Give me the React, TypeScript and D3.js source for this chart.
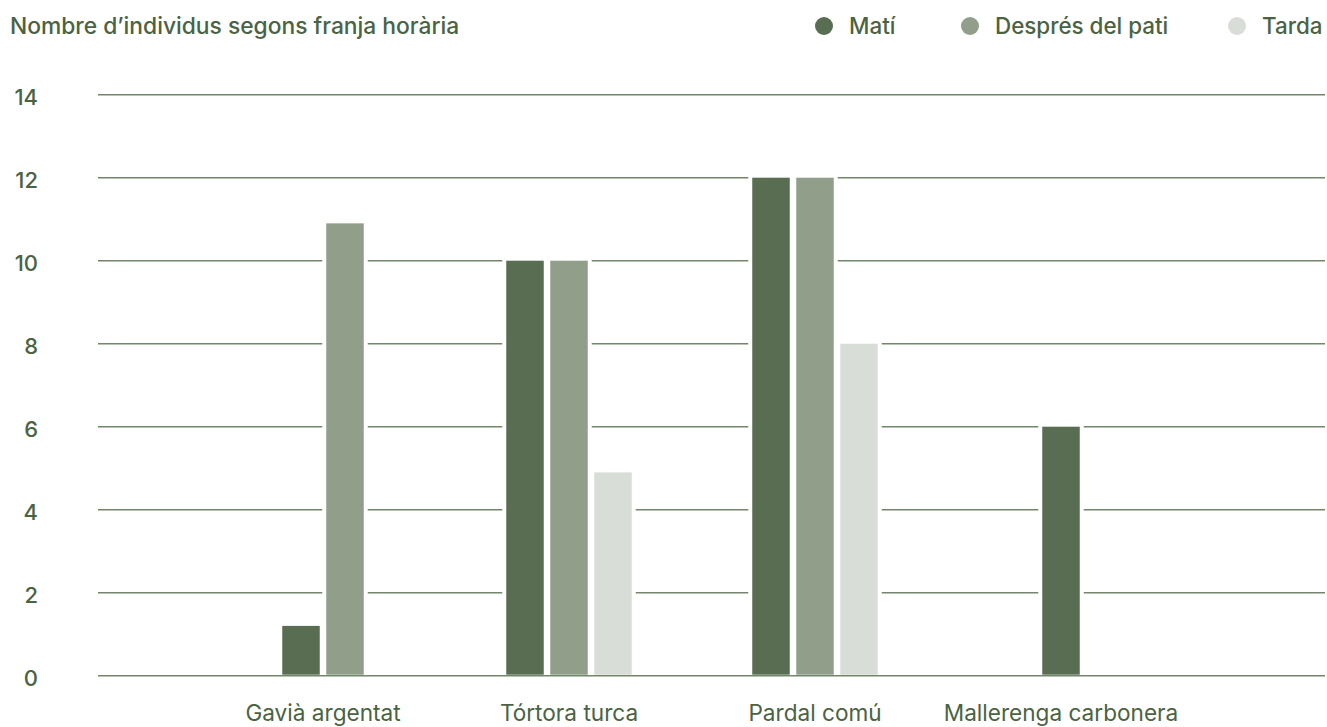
import React from 'react'
import * as d3 from 'd3'

const categories = ['Gavià argentat', 'Tórtora turca', 'Pardal comú', 'Mallerenga carbonera']
const seriesNames = ['Matí', 'Després del pati', 'Tarda']
const mati = [1.2, 10, 12, 6]
const despres = [10.9, 10, 12, 0]
const tarda = [0, 4.9, 8, 0]
const yTicks = [0, 2, 4, 6, 8, 10, 12, 14]
const colors = ['#586d51', '#909e8a', '#d9ddd7']

const W = 1327, H = 727
const textColor = '#4a6342'
const gridColor = '#73866b'
const font = 'Inter, "Noto Sans", sans-serif'

export default function App() {
  const series = [mati, despres, tarda]
  const x = d3.scaleBand().domain(categories).range([200, 1184]).padding(0)
  const y = d3.scaleLinear().domain([0, 14]).range([675.7, 94.7])
  const barW = 37.5, step = 44, halo = 4

  // bars: zero values dropped, remaining ones centred in the category
  const bars: { x: number; y: number; w: number; h: number; c: string }[] = []
  categories.forEach((cat, i) => {
    const present = series.map((s, j) => ({ v: s[i], j })).filter(d => d.v > 0)
    const cx = (x(cat) as number) + x.bandwidth() / 2
    present.forEach((d, k) => {
      const left = cx + (k - (present.length - 1) / 2) * step - barW / 2
      bars.push({ x: left, y: y(d.v), w: barW, h: y(0) - 1 - y(d.v), c: colors[d.j] })
    })
  })

  const legendX = [824, 970, 1237]

  return (
    <svg width={W} height={H} style={{ position: 'absolute', left: 0, top: 0, fontFamily: font }}>
      <rect width={W} height={H} fill="#fff" />
      <text x={10} y={34} fill={textColor} fontSize={22.8} fontWeight={500}>
        Nombre d’individus segons franja horària
      </text>
      {seriesNames.map((n, i) => (
        <g key={n}>
          <circle cx={legendX[i]} cy={26} r={9} fill={colors[i]} />
          <text x={legendX[i] + 25} y={34} fill={textColor} fontSize={22.4} fontWeight={500}>{n}</text>
        </g>
      ))}
      {yTicks.filter(t => t > 0).map(t => (
        <line key={t} x1={98} x2={1325} y1={y(t)} y2={y(t)} stroke={gridColor} strokeWidth={1.6} />
      ))}
      {yTicks.map(t => (
        <text key={t} x={38} y={y(t) + 2} textAnchor="end" dominantBaseline="central"
          fill={textColor} fontSize={22} fontWeight={500}>{t}</text>
      ))}
      {bars.map((b, i) => (
        <rect key={'h' + i} x={b.x - halo} y={b.y - halo} width={b.w + 2 * halo} height={b.h + halo} fill="#fff" />
      ))}
      {bars.map((b, i) => (
        <rect key={'b' + i} x={b.x} y={b.y} width={b.w} height={b.h} fill={b.c} />
      ))}
      <line x1={98} x2={1325} y1={y(0)} y2={y(0)} stroke={gridColor} strokeWidth={1.6} />
      {categories.map(c => (
        <text key={c} x={(x(c) as number) + x.bandwidth() / 2} y={721} textAnchor="middle"
          fill={textColor} fontSize={22.6} fontWeight={400}>{c}</text>
      ))}
    </svg>
  )
}
